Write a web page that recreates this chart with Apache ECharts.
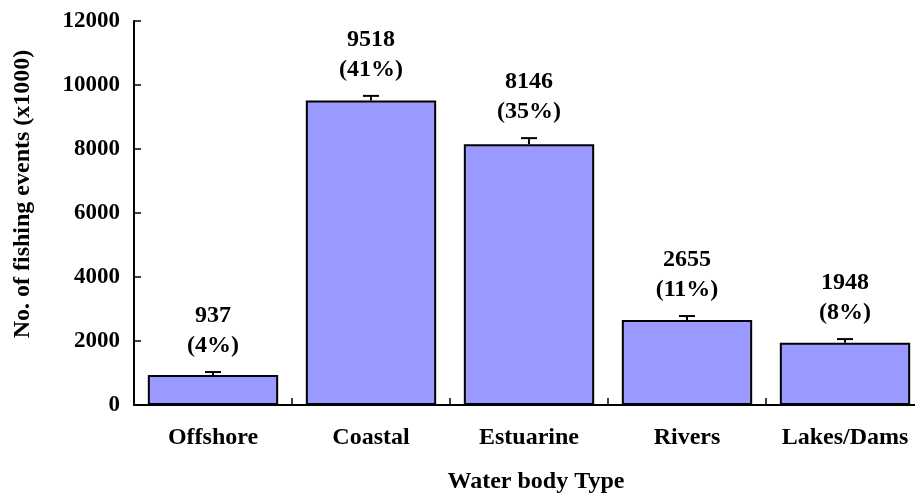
<!DOCTYPE html>
<html>
<head>
<meta charset="utf-8">
<script src="https://cdn.jsdelivr.net/npm/echarts@6/dist/echarts.min.js"></script>
<style>
html,body{margin:0;padding:0;background:#fff;}
#chart{width:915px;height:494px;}
</style>
</head>
<body>
<div id="chart"></div>
<script>
const categories = ['Offshore', 'Coastal', 'Estuarine', 'Rivers', 'Lakes/Dams'];
const values = [937, 9518, 8146, 2655, 1948];
const errorTops = [1030, 9660, 8340, 2780, 2060];
const percents = [4, 41, 35, 11, 8];
const yTicks = { min: 0, max: 12000, interval: 2000 };

const FONT = '"Liberation Serif", "Times New Roman", serif';
const chart = echarts.init(document.getElementById('chart'));

const customData = categories.map((c, i) => [i, values[i], errorTops[i], percents[i]]);

chart.setOption({
  animation: false,
  backgroundColor: '#fff',
  grid: { left: 134, right: -9, top: 21, bottom: 89, containLabel: false, outerBoundsMode: 'none' },
  xAxis: {
    type: 'category',
    data: categories,
    boundaryGap: true,
    axisLine: { lineStyle: { color: '#000', width: 2 } },
    axisTick: { show: true, inside: true, length: 7, interval: 0, lineStyle: { color: '#000', width: 1.5 } },
    axisLabel: { color: '#000', fontFamily: FONT, fontWeight: 'bold', fontSize: 24, margin: 21, interval: 0, hideOverlap: false },
    name: 'Water body Type',
    nameLocation: 'middle',
    nameGap: 65,
    nameTextStyle: { color: '#000', fontFamily: FONT, fontWeight: 'bold', fontSize: 24, padding: [0, 0, 0, 14] }
  },
  yAxis: {
    type: 'value',
    min: yTicks.min, max: yTicks.max, interval: yTicks.interval,
    splitLine: { show: false },
    axisLine: { show: true, lineStyle: { color: '#000', width: 2 } },
    axisTick: { show: true, inside: true, length: 7, lineStyle: { color: '#000', width: 1.5 } },
    axisLabel: { color: '#000', fontFamily: FONT, fontWeight: 'bold', fontSize: 23, margin: 14, formatter: v => String(v) },
    name: 'No. of fishing events (x1000)',
    nameLocation: 'middle',
    nameGap: 99,
    nameRotate: 90,
    nameTextStyle: { color: '#000', fontFamily: FONT, fontWeight: 'bold', fontSize: 24, padding: [0, 0, 0, 38] }
  },
  series: [
    {
      type: 'bar',
      data: values,
      barCategoryGap: '17.5%',
      itemStyle: { color: '#9999FF', borderColor: '#000', borderWidth: 2 },
      z: 2
    },
    {
      type: 'custom',
      data: customData,
      z: 3,
      renderItem: function (params, api) {
        const i = api.value(0);
        const top = api.coord([i, api.value(1)]);
        const err = api.coord([i, api.value(2)]);
        const cap = 8;
        return {
          type: 'group',
          children: [
            { type: 'line', shape: { x1: top[0], y1: top[1], x2: err[0], y2: err[1] }, style: { stroke: '#000', lineWidth: 2 } },
            { type: 'line', shape: { x1: err[0] - cap, y1: err[1], x2: err[0] + cap, y2: err[1] }, style: { stroke: '#000', lineWidth: 2 } },
            {
              type: 'text',
              x: err[0], y: err[1] - 11,
              style: {
                text: api.value(1) + '\n(' + api.value(3) + '%)',
                fill: '#000',
                font: 'bold 24px ' + FONT,
                lineHeight: 30,
                align: 'center',
                verticalAlign: 'bottom'
              }
            }
          ]
        };
      }
    }
  ]
});
</script>
</body>
</html>
